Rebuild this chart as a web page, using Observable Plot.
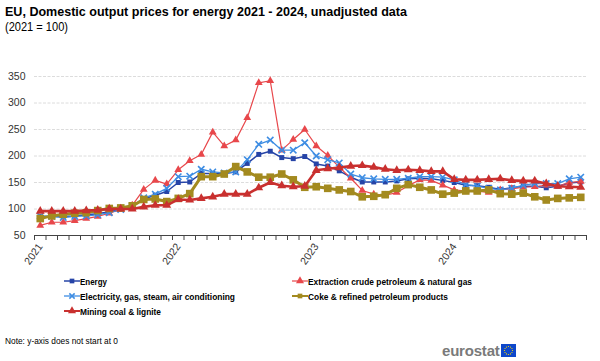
<!DOCTYPE html>
<html>
<head>
<meta charset="utf-8">
<script src="https://cdn.jsdelivr.net/npm/d3@7"></script>
<script src="https://cdn.jsdelivr.net/npm/@observablehq/plot@0.6"></script>
<style>
  html, body { margin: 0; padding: 0; background: #fff; }
  body { width: 600px; height: 361px; position: relative; overflow: hidden; font-family: "Liberation Sans", Arial, sans-serif; }
  .abs { position: absolute; white-space: nowrap; transform-origin: 0 0; line-height: 1; }
  #title { left: 5px; top: 5px; font-size: 13px; font-weight: bold; color: #000; }
  #subtitle { left: 5px; top: 21px; font-size: 12px; color: #000; }
  #chart { position: absolute; left: 0; top: 60px; }
  .leg { position: absolute; display: flex; align-items: center; height: 14px; }
  .leg span { font-size: 9.5px; font-weight: bold; color: #000; white-space: nowrap; display: inline-block; transform-origin: 0 50%; }
  #note { left: 5px; top: 336px; font-size: 9.5px; color: #000; }
  #logo { position: absolute; left: 442px; top: 342px; display: flex; align-items: center; }
  #logo span { font-size: 15px; font-weight: bold; color: #7a7a7a; letter-spacing: -0.2px; }
</style>
</head>
<body>
<div id="title" class="abs">EU, Domestic output prices for energy 2021 - 2024, unadjusted data</div>
<div id="subtitle" class="abs">(2021 = 100)</div>
<div id="chart"></div>
<div id="legend"></div>
<div id="note" class="abs">Note: y-axis does not start at 0</div>
<div id="logo"><span>eurostat</span><svg id="flag" width="15" height="13" style="margin-left:1px"></svg></div>
<script>
// ---------- data ----------
const years = ["2021", "2022", "2023", "2024"];
const seriesNames = [
  "Energy",
  "Extraction crude petroleum & natural gas",
  "Electricity, gas, steam, air conditioning",
  "Coke & refined petroleum products",
  "Mining coal & lignite"
];
const energy = [86, 86, 86, 87, 89, 91, 95, 99, 104, 119, 126, 133,
  150, 151, 167, 167, 167, 170, 186, 203, 209, 197, 195, 199,
  185, 181, 172, 160, 151, 151, 151, 153, 157, 158, 157, 154,
  150, 145, 144, 141, 137, 140, 143, 143, 140, 143, 149, 151];
const extraction = [69, 75, 75, 78, 82, 86, 92, 99, 107, 137, 154, 147,
  174, 191, 203, 245, 219, 230, 272, 338, 342, 211, 231, 250,
  219, 201, 179, 158, 135, 128, 126, 131, 144, 155, 154, 145,
  136, 134, 134, 131, 136, 138, 141, 142, 145, 143, 150, 152];
const electricity = [87, 86, 84, 86, 87, 89, 93, 99, 105, 121, 128, 139,
  161, 162, 175, 170, 168, 170, 193, 222, 230, 211, 211, 225,
  200, 193, 187, 166, 159, 157, 156, 156, 158, 161, 161, 160,
  155, 146, 143, 139, 136, 139, 145, 148, 148, 148, 157, 160];
const coke = [82, 87, 90, 92, 93, 97, 101, 102, 106, 118, 119, 114,
  120, 129, 161, 161, 166, 180, 170, 160, 160, 166, 155, 141,
  142, 139, 136, 133, 123, 124, 127, 139, 146, 141, 136, 128,
  130, 134, 134, 136, 129, 128, 130, 123, 117, 120, 121, 122];
const mining = [96, 96, 96, 96, 97, 98, 100, 100, 100, 104, 107, 107,
  118, 117, 120, 123, 128, 128, 128, 140, 150, 144, 142, 143,
  173, 176, 178, 181, 182, 179, 175, 173, 174, 173, 171, 171,
  156, 155, 155, 156, 157, 154, 153, 153, 148, 143, 142, 141];
const yTicks = [50, 100, 150, 200, 250, 300, 350];

// ---------- styles ----------
const styles = [
  {name: seriesNames[0], values: energy, color: "#2644A7", sw: 1.5, symbol: "square", r: 2.8},
  {name: seriesNames[1], values: extraction, color: "#E8474B", sw: 1.2, symbol: "triangle", r: 2.9},
  {name: seriesNames[2], values: electricity, color: "#3E8DE3", sw: 1.3, symbol: "times", r: 3.0},
  {name: seriesNames[3], values: coke, color: "#A38A1F", sw: 3, symbol: "square", r: 4.3},
  {name: seriesNames[4], values: mining, color: "#C9302F", sw: 2.6, symbol: "triangle", r: 3.3}
];

const periods = years.flatMap(y => d3.range(1, 13).map(m => y + "-" + String(m).padStart(2, "0")));
const rows = styles.flatMap(s => s.values.map((v, i) => ({series: s.name, i, period: periods[i], value: v})));
const boundaries = d3.range(periods.length + 1).map(i => i - 0.5);
const labelTicks = years.map(y => periods.indexOf(y + "-01"));

const marks = [
  Plot.ruleY(yTicks.filter(t => t > 50), {stroke: "#dcdcdc", strokeWidth: 1, strokeDasharray: "3,1.5"}),
  Plot.axisY({ticks: yTicks, tickSize: 0, tickPadding: 9, fontSize: 10.5, label: null}),
  Plot.axisX({ticks: boundaries, tickSize: 5, tickFormat: () => "", label: null, stroke: "#444"}),
  Plot.axisX({ticks: labelTicks, tickSize: 0, tickPadding: 9, tickRotate: -55, fontSize: 10.5,
    tickFormat: i => periods[i].slice(0, 4), label: null}),
  Plot.ruleY([50], {stroke: "#444", strokeWidth: 1})
];
for (const s of styles) {
  const d = rows.filter(r => r.series === s.name);
  marks.push(Plot.line(d, {x: "i", y: "value", stroke: s.color, strokeWidth: s.sw}));
  marks.push(Plot.dot(d, {x: "i", y: "value", symbol: () => s.symbol, r: s.r,
    fill: s.symbol === "times" ? "none" : s.color,
    stroke: s.color, strokeWidth: s.symbol === "times" ? 1.6 : 0}));
}

const chart = Plot.plot({
  width: 600,
  height: 210,
  marginTop: 16,
  marginBottom: 35,
  marginLeft: 34,
  marginRight: 14,
  style: {fontFamily: "'Liberation Sans', Arial, sans-serif", color: "#333", background: "white", overflow: "visible"},
  x: {type: "linear", domain: [-0.5, periods.length - 0.5]},
  y: {type: "linear", domain: [50, 350]},
  symbol: {type: "identity"},
  marks
});
document.getElementById("chart").appendChild(chart);

// ---------- legend ----------
const legendPos = [
  {left: 64, top: 274}, {left: 292, top: 274},
  {left: 64, top: 289}, {left: 292, top: 289},
  {left: 64, top: 304}
];
const legendWidths = [27, 164, 155, 140, 81];
const legend = document.getElementById("legend");
styles.forEach((s, k) => {
  const item = document.createElement("div");
  item.className = "leg";
  item.style.left = legendPos[k].left + "px";
  item.style.top = legendPos[k].top + "px";
  const sym = d3.symbol(
    s.symbol === "square" ? d3.symbolSquare : s.symbol === "triangle" ? d3.symbolTriangle : d3.symbolTimes,
    s.symbol === "times" ? 20 : s.symbol === "square" ? 22 : 28)();
  item.innerHTML = `<svg width="16" height="14" style="overflow:visible"><line x1="0" x2="16" y1="7" y2="7" stroke="${s.color}" stroke-width="${Math.min(s.sw, 2)}"/><path d="${sym}" transform="translate(8,7)" fill="${s.symbol === "times" ? "none" : s.color}" stroke="${s.color}" stroke-width="${s.symbol === "times" ? 1.5 : 0}"/></svg><span>${s.name}</span>`;
  legend.appendChild(item);
  const span = item.querySelector("span");
  const w = span.getBoundingClientRect().width;
  span.style.transform = `scaleX(${legendWidths[k] / w})`;
});

// fit text widths
function fit(id, target) {
  const el = document.getElementById(id);
  const w = el.getBoundingClientRect().width;
  el.style.transform = `scaleX(${target / w})`;
}
fit("title", 402);
fit("subtitle", 63);
fit("note", 113);

// ---------- flag ----------
const flag = d3.select("#flag");
flag.append("rect").attr("width", 15).attr("height", 13).attr("fill", "#0E47CB");
d3.range(12).forEach(k => {
  const a = k / 12 * 2 * Math.PI;
  flag.append("circle").attr("cx", 7.5 + 4 * Math.cos(a)).attr("cy", 6.5 + 4 * Math.sin(a)).attr("r", 0.6).attr("fill", "#FFDD00");
});
</script>
</body>
</html>
